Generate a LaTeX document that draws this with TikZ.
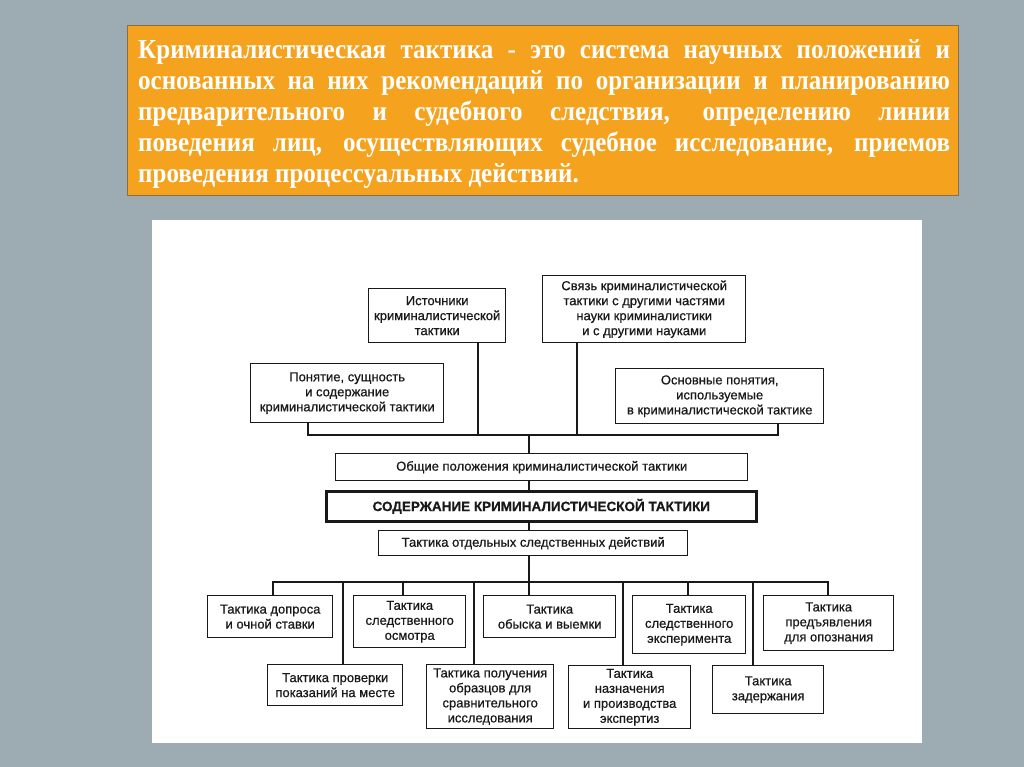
\documentclass[tikz,border=0pt]{standalone}
\usepackage{fontspec}
\setmainfont{Liberation Serif}
\newfontfamily\titlefont[FakeStretch=0.91]{Liberation Serif}
\newfontfamily\diagfont[FakeBold=0.6]{Liberation Sans}
\definecolor{bgc}{RGB}{156,172,178}
\definecolor{orangec}{RGB}{245,163,31}
\definecolor{orgborder}{RGB}{140,110,70}
\definecolor{inkc}{RGB}{25,25,25}
\begin{document}
\begin{tikzpicture}[x=1pt,y=-1pt,
  bx/.style={draw=inkc, line width=1.4pt, fill=white, text=inkc,
    font=\diagfont\fontsize{13}{15}\selectfont, align=center,
    inner sep=0pt, anchor=north west},
  ln/.style={draw=inkc, line width=1.1pt}]
\fill[bgc] (0,0) rectangle (1024,767);
\useasboundingbox (0,0) rectangle (1024,767);
% definition box
\node[draw=orgborder, fill=orangec, line width=0.8pt, minimum width=831pt,
  minimum height=170pt, anchor=north west, inner sep=0pt] (defbox) at (127,25) {};
\node[anchor=north west, inner sep=0pt, text width=812pt, align=justify,
  text=white, font=\titlefont\bfseries\fontsize{27.5}{31}\selectfont] (deftext) at (138,39)
  {Криминалистическая тактика - это система научных положений и\linebreak
   основанных на них рекомендаций по организации и планированию\linebreak
   предварительного и судебного следствия, определению линии\linebreak
   поведения лиц, осуществляющих судебное исследование, приемов\linebreak
   проведения процессуальных действий.};
% white panel
\fill[white] (152,220) rectangle (922,743);
% upper boxes
\node[bx, minimum width=137pt, minimum height=54pt] (ist) at (368,288)
  {Источники\\криминалистической\\тактики};
\node[bx, minimum width=203pt, minimum height=67pt] (svz) at (542,275)
  {Связь криминалистической\\тактики с другими частями\\науки криминалистики\\и с другими науками};
\node[bx, minimum width=193pt, minimum height=59pt] (pon) at (250,363)
  {Понятие, сущность\\и содержание\\криминалистической тактики};
\node[bx, minimum width=208pt, minimum height=55pt] (osn) at (615,368)
  {Основные понятия,\\используемые\\в криминалистической тактике};
\node[bx, minimum width=412pt, minimum height=27pt] (obsh) at (335,453)
  {Общие положения криминалистической тактики};
\node[bx, line width=2.6pt, minimum width=430pt, minimum height=30pt,
  font=\diagfont\bfseries\fontsize{13.5}{15}\selectfont] (sod) at (325,490)
  {СОДЕРЖАНИЕ КРИМИНАЛИСТИЧЕСКОЙ ТАКТИКИ};
\node[bx, minimum width=309pt, minimum height=25pt] (tak) at (378,530)
  {Тактика отдельных следственных действий};
% lower boxes
\node[bx, minimum width=125pt, minimum height=42pt] (dop) at (207,595)
  {Тактика допроса\\и очной ставки};
\node[bx, minimum width=112pt, minimum height=52pt] (osm) at (353,595)
  {Тактика\\следственного\\осмотра};
\node[bx, minimum width=132pt, minimum height=42pt] (obysk) at (483,595)
  {Тактика\\обыска и выемки};
\node[bx, minimum width=113pt, minimum height=58pt] (expt) at (632,595)
  {Тактика\\следственного\\эксперимента};
\node[bx, minimum width=130pt, minimum height=55pt] (pred) at (763,595)
  {Тактика\\предъявления\\для опознания};
\node[bx, minimum width=135pt, minimum height=41pt] (prov) at (267,664)
  {Тактика проверки\\показаний на месте};
\node[bx, minimum width=127pt, minimum height=64pt] (obr) at (426,664)
  {Тактика получения\\образцов для\\сравнительного\\исследования};
\node[bx, minimum width=122pt, minimum height=63pt] (nazn) at (568,665)
  {Тактика\\назначения\\и производства\\экспертиз};
\node[bx, minimum width=111pt, minimum height=48pt] (zad) at (712,665)
  {Тактика\\задержания};
% upper connectors
\coordinate (uL) at (308,435);
\coordinate (uR) at (778,435);
\coordinate (uI) at (478,435);
\coordinate (uS) at (577,435);
\coordinate (uC) at (529,435);
\draw[ln] (pon.south -| uL) -- (uL) -- (uR) -- (osn.south -| uR);
\draw[ln] (ist.south -| uI) -- (uI);
\draw[ln] (svz.south -| uS) -- (uS);
\draw[ln] (uC) -- (obsh.north -| uC);
\draw[ln] (obsh.south -| uC) -- (sod.north -| uC);
\draw[ln] (sod.south -| uC) -- (tak.north -| uC);
% lower connectors
\coordinate (lC) at (529,582);
\coordinate (lL) at (273,582);
\coordinate (lR) at (828,582);
\draw[ln] (tak.south -| lC) -- (lC);
\draw[ln] (dop.north -| lL) -- (lL) -- (lR) -- (pred.north -| lR);
\foreach \n/\x in {osm/403, obysk/529, expt/688, prov/343, obr/474, nazn/623, zad/753}{
  \coordinate (b\n) at (\x,582);
  \draw[ln] (b\n) -- (\n.north -| b\n);
}
\end{tikzpicture}
\end{document}
